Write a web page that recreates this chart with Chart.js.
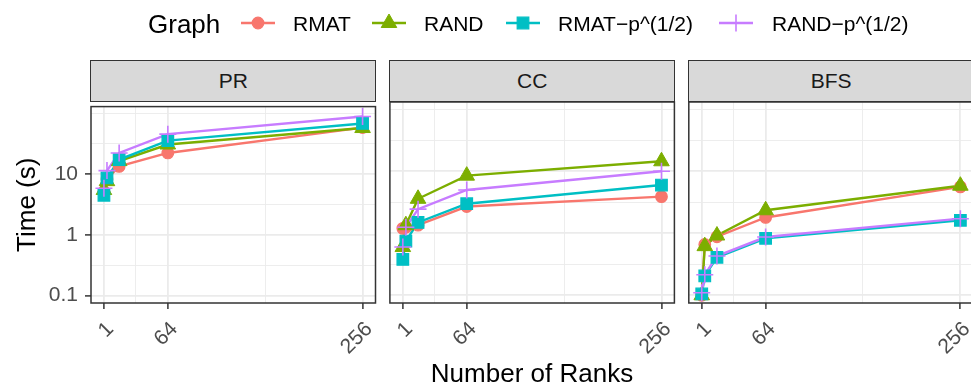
<!DOCTYPE html>
<html>
<head>
<meta charset="utf-8">
<script src="https://cdn.jsdelivr.net/npm/chart.js@4"></script>
<style>
  html, body { margin: 0; padding: 0; background: #fff; }
  body { width: 971px; height: 390px; overflow: hidden; position: relative;
         font-family: "Liberation Sans", Arial, sans-serif; }
  .txt { position: absolute; white-space: nowrap; color: #000; }
  .legend-label { font-size: 21px; line-height: 24px; top: 11.5px; }
  .strip { position: absolute; top: 60px; height: 42px; box-sizing: border-box;
           border: 1.5px solid #333; background: #d9d9d9; color: #1a1a1a;
           font-size: 21px; line-height: 39px; text-align: center; }
  canvas.panel { position: absolute; left: 0; top: 87px; }
  #legendKeys { position: absolute; left: 0; top: 0; }
</style>
</head>
<body>
<canvas id="legendKeys" width="971" height="50"></canvas>
<div class="txt" style="left:148px; top:9.3px; font-size:26px; line-height:30px;">Graph</div>
<div id="legendLabels"></div>
<div id="strips"></div>
<canvas class="panel" id="panel0" width="1000" height="276"></canvas>
<canvas class="panel" id="panel1" width="1000" height="276"></canvas>
<canvas class="panel" id="panel2" width="1000" height="276"></canvas>
<div class="txt" style="left:532px; top:357.5px; font-size:26px; line-height:30px; transform:translateX(-50%);">Number of Ranks</div>

<script>
// Number of ranks used in every run
const ranks = [1, 4, 16, 64, 256];
const rankTicks = [1, 64, 256];

// Time axis breaks (seconds, log scale)
const timeTicks = [0.1, 1, 10];
const timeTickLabels = ['0.1', '1', '10'];

const algorithms = ['PR', 'CC', 'BFS'];
const graphs = ['RMAT', 'RAND', 'RMAT\u2212p^(1/2)', 'RAND\u2212p^(1/2)'];

// Run times in seconds, one array per algorithm and graph
const prRMAT   = [5.2, 8.3, 13.5, 22.5, 59];
const prRAND   = [5.5, 7.7, 16.5, 31, 58];
const prRMATp  = [4.5, 8.7, 17.5, 36, 69];
const prRANDp  = [5.9, 11.5, 22.5, 46, 90];

const ccRMAT   = [1.2, 1.25, 1.35, 2.7, 3.9];
const ccRAND   = [0.6, 1.35, 3.6, 8.5, 14.5];
const ccRMATp  = [0.38, 0.75, 1.5, 3.0, 6.0];
const ccRANDp  = [0.6, 1.25, 2.45, 5.0, 10.0];

const bfsRMAT  = [0.1, 0.66, 0.88, 1.8, 5.6];
const bfsRAND  = [0.1, 0.62, 0.92, 2.35, 5.85];
const bfsRMATp = [0.105, 0.205, 0.41, 0.83, 1.62];
const bfsRANDp = [0.11, 0.215, 0.43, 0.87, 1.72];

const seriesByAlgorithm = [
  [prRMAT, prRAND, prRMATp, prRANDp],
  [ccRMAT, ccRAND, ccRMATp, ccRANDp],
  [bfsRMAT, bfsRAND, bfsRMATp, bfsRANDp]
];

// ---- styling ----
const FONT = '"Liberation Sans", Arial, sans-serif';
const styles = [
  { color: '#F8766D', pointStyle: 'circle',   radius: 5.8, border: 1.2 },
  { color: '#7CAE00', pointStyle: 'triangle', radius: 9.0, border: 1.0 },
  { color: '#00BFC4', pointStyle: 'rect',     radius: 8.2, border: 1.2 },
  { color: '#C77CFF', pointStyle: 'cross',    radius: 8.5, border: 1.6 }
];
const LINE_WIDTH = 2.4;

// panel geometry (chart areas)
const PANEL_W = 284.5, PANEL_GAP = 14.4, FIRST_LEFT = 91;
const PANEL_TOP_PAD = 15, X_AXIS_H = 60, CANVAS_W = 1000;

// x range with 5% expansion on both sides
const xSpan = ranks[ranks.length - 1] - ranks[0];
const xMin = ranks[0] - 0.05 * xSpan, xMax = ranks[ranks.length - 1] + 0.05 * xSpan;
// x minor grid lines sit halfway between the breaks
const xMinor = [];
for (let i = 0; i + 1 < rankTicks.length; i++) xMinor.push((rankTicks[i] + rankTicks[i + 1]) / 2);
const xGrid = [...rankTicks, ...xMinor].sort((a, b) => a - b);

// y minor grid lines halfway (in log space) between breaks, plus one decade beyond
const yMinor = [];
for (let i = 0; i + 1 < timeTicks.length; i++) yMinor.push(Math.sqrt(timeTicks[i] * timeTicks[i + 1]));
const yTop = timeTicks[timeTicks.length - 1] * (timeTicks[1] / timeTicks[0]);
yMinor.push(Math.sqrt(timeTicks[timeTicks.length - 1] * yTop), yTop);
const yGrid = [...timeTicks, ...yMinor].sort((a, b) => a - b);
const yMin = 0.0751, yMax = 131;

const near = (a, list) => list.some(v => Math.abs(v - a) < 1e-9 * Math.max(1, Math.abs(v)));

// panel border drawn over the data
const panelFrame = {
  id: 'panelFrame',
  afterDatasetsDraw(chart) {
    const { ctx, chartArea: a } = chart;
    ctx.save();
    ctx.strokeStyle = '#333333';
    ctx.lineWidth = 1.5;
    ctx.strokeRect(a.left, a.top, a.right - a.left, a.bottom - a.top);
    ctx.restore();
  }
};

function buildPanel(idx) {
  const left = FIRST_LEFT + idx * (PANEL_W + PANEL_GAP);
  const right = left + PANEL_W;
  const first = idx === 0;
  const yAxisW = first ? left : 0;

  const datasets = [];
  seriesByAlgorithm[idx].forEach((vals, i) => {
    const pts = ranks.map((r, j) => ({ x: r, y: vals[j] }));
    const s = styles[i];
    datasets.push({
      label: graphs[i] + ' line',
      data: pts,
      showLine: true,
      borderColor: s.color,
      borderWidth: LINE_WIDTH,
      pointRadius: 0,
      tension: 0,
      fill: false,
      order: 20 - i
    });
    datasets.push({
      label: graphs[i],
      data: pts,
      showLine: false,
      pointStyle: s.pointStyle,
      pointRadius: s.radius,
      pointHoverRadius: s.radius,
      pointBackgroundColor: s.color,
      pointBorderColor: s.color,
      pointBorderWidth: s.border,
      order: 10 - i
    });
  });

  return new Chart(document.getElementById('panel' + idx), {
    type: 'scatter',
    data: { datasets },
    plugins: [panelFrame],
    options: {
      responsive: false,
      animation: false,
      events: [],
      layout: { padding: { left: first ? 0 : left, right: CANVAS_W - right, top: PANEL_TOP_PAD, bottom: 0 } },
      plugins: { legend: { display: false }, tooltip: { enabled: false } },
      scales: {
        x: {
          type: 'linear',
          min: xMin, max: xMax,
          afterBuildTicks: s => { s.ticks = xGrid.map(v => ({ value: v })); },
          afterFit: s => { s.height = X_AXIS_H; },
          border: { display: false },
          grid: {
            color: '#ebebeb',
            lineWidth: c => near(c.tick.value, rankTicks) ? 1.8 : 0.9,
            tickColor: c => near(c.tick.value, rankTicks) ? '#333333' : 'rgba(0,0,0,0)',
            tickWidth: 1.5,
            tickLength: 6
          },
          ticks: {
            autoSkip: false, minRotation: 45, maxRotation: 45, padding: 8, labelOffset: 6.5,
            color: '#4d4d4d', font: { family: FONT, size: 21 },
            callback: v => near(v, rankTicks) ? String(v) : ''
          }
        },
        y: {
          type: 'logarithmic',
          min: yMin, max: yMax,
          afterBuildTicks: s => { s.ticks = yGrid.map(v => ({ value: v })); },
          afterFit: s => { s.width = yAxisW; },
          border: { display: false },
          grid: {
            color: '#ebebeb',
            lineWidth: c => near(c.tick.value, timeTicks) ? 1.8 : 0.9,
            tickColor: c => near(c.tick.value, timeTicks) ? '#333333' : 'rgba(0,0,0,0)',
            tickWidth: 1.5,
            tickLength: 6,
            drawTicks: first
          },
          ticks: {
            display: first,
            padding: 7,
            color: '#4d4d4d', font: { family: FONT, size: 21 },
            callback: v => {
              const k = timeTicks.findIndex(t => near(v, [t]));
              return k >= 0 ? timeTickLabels[k] : '';
            }
          },
          title: {
            display: first,
            text: 'Time (s)',
            color: '#000',
            font: { family: FONT, size: 26 },
            padding: { top: 12, bottom: 0 }
          }
        }
      }
    }
  });
}

// facet strips
const strips = document.getElementById('strips');
algorithms.forEach((name, idx) => {
  const left = FIRST_LEFT + idx * (PANEL_W + PANEL_GAP);
  const d = document.createElement('div');
  d.className = 'strip';
  d.style.left = (left - 0.75) + 'px';
  d.style.width = (PANEL_W + 1.5) + 'px';
  d.textContent = name;
  strips.appendChild(d);
});

algorithms.forEach((_, idx) => buildPanel(idx));

// legend keys and labels
const legendKeys = [[241, 275], [372, 406], [506, 540], [719, 753]];
const legendTextLeft = [293, 424, 558, 772];
const LEGEND_Y = 23;
const lctx = document.getElementById('legendKeys').getContext('2d');
const labelsBox = document.getElementById('legendLabels');

function drawSymbol(ctx, s, x, y) {
  ctx.save();
  ctx.fillStyle = s.color;
  ctx.strokeStyle = s.color;
  ctx.lineWidth = s.border;
  ctx.beginPath();
  const r = s.radius;
  if (s.pointStyle === 'circle') {
    ctx.arc(x, y, r, 0, Math.PI * 2);
    ctx.fill(); ctx.stroke();
  } else if (s.pointStyle === 'triangle') {
    for (let k = 0; k < 3; k++) {
      const a = k * 2 * Math.PI / 3;
      const px = x + Math.sin(a) * r, py = y - Math.cos(a) * r;
      k === 0 ? ctx.moveTo(px, py) : ctx.lineTo(px, py);
    }
    ctx.closePath(); ctx.fill(); ctx.stroke();
  } else if (s.pointStyle === 'rect') {
    const h = Math.SQRT1_2 * r;
    ctx.rect(x - h, y - h, 2 * h, 2 * h);
    ctx.fill(); ctx.stroke();
  } else {
    ctx.moveTo(x - r, y); ctx.lineTo(x + r, y);
    ctx.moveTo(x, y - r); ctx.lineTo(x, y + r);
    ctx.stroke();
  }
  ctx.restore();
}

graphs.forEach((g, i) => {
  const [x0, x1] = legendKeys[i];
  const s = styles[i];
  lctx.save();
  lctx.strokeStyle = s.color;
  lctx.lineWidth = LINE_WIDTH;
  lctx.beginPath();
  lctx.moveTo(x0, LEGEND_Y); lctx.lineTo(x1, LEGEND_Y);
  lctx.stroke();
  lctx.restore();
  drawSymbol(lctx, s, (x0 + x1) / 2, LEGEND_Y);

  const t = document.createElement('div');
  t.className = 'txt legend-label';
  t.style.left = legendTextLeft[i] + 'px';
  t.textContent = g;
  labelsBox.appendChild(t);
});
</script>
</body>
</html>
